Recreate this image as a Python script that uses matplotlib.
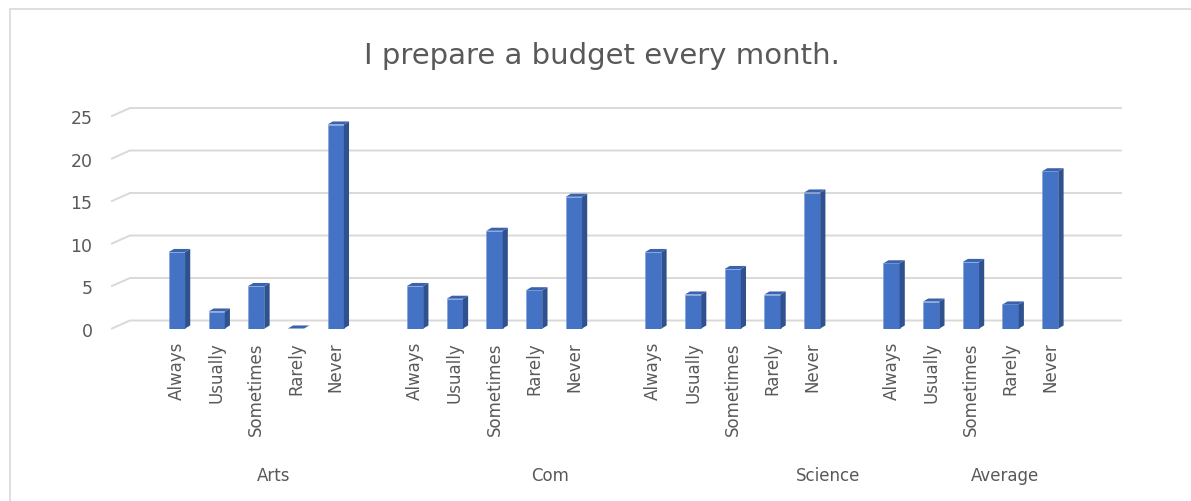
import numpy as np
import matplotlib.pyplot as plt
from matplotlib.patches import Polygon, Rectangle
import matplotlib.transforms as mtransforms

title = 'I prepare a budget every month.'
groups = ['Arts', 'Com', 'Science', 'Average']
answers = ['Always', 'Usually', 'Sometimes', 'Rarely', 'Never']
arts = [9, 2, 5, 0, 24]
com = [5, 3.5, 11.5, 4.5, 15.5]
science = [9, 4, 7, 4, 16]
average = [7.67, 3.17, 7.83, 2.83, 18.5]
yticks = [0, 5, 10, 15, 20, 25]

series = [arts, com, science, average]

front = '#4472C4'
side = '#2F528F'
top = '#3A62AE'
grid_c = '#D9D9D9'
text_c = '#595959'

fig = plt.figure(figsize=(11.91, 5.02), dpi=100)
fig.patch.set_facecolor('white')

# chart area frame (runs off the right and bottom)
fig.patches.append(Rectangle((10 / 1191, -0.1), 1.2, (502 - 10) / 502 + 0.1,
                             transform=fig.transFigure, fill=False,
                             edgecolor=grid_c, linewidth=1.2))

ax = fig.add_axes([0.0940, 0.3436, 0.8472, 0.4233])
xmin, xmax = -1.637, 23.78
ax.set_xlim(xmin, xmax)
ax.set_ylim(0, 25)
for s in ax.spines.values():
    s.set_visible(False)

# depth of the back wall and of each bar, in data units
wall_dx, wall_dy = 0.453, 0.94
bar_w = 0.41
bar_dx, bar_dy = 0.13, 0.36

for v in yticks:
    ax.plot([xmin, xmin + wall_dx, xmax], [v, v + wall_dy, v + wall_dy],
            color=grid_c, linewidth=1.4, clip_on=False, zorder=1)

positions = []
labels = []
for g, vals in enumerate(series):
    for c, v in enumerate(vals):
        x = g * 6 + c
        positions.append(x)
        labels.append(answers[c])
        x0, x1 = x - bar_w / 2, x + bar_w / 2
        ax.bar(x, v, width=bar_w, color=front, edgecolor='#7F9FD8',
               linewidth=0.4, zorder=3)
        ax.add_patch(Polygon([(x1, 0), (x1 + bar_dx, bar_dy), (x1 + bar_dx, v + bar_dy), (x1, v)],
                             closed=True, facecolor=side, edgecolor='none', zorder=3))
        ax.add_patch(Polygon([(x0, v), (x0 + bar_dx, v + bar_dy), (x1 + bar_dx, v + bar_dy), (x1, v)],
                             closed=True, facecolor=top, edgecolor='none', zorder=3))

ax.set_xticks(positions)
ax.set_xticklabels(labels, rotation=90, va='top', ha='center')
ax.set_yticks(yticks)
ax.tick_params(axis='x', length=0, pad=9, labelsize=12, labelcolor=text_c)
ax.tick_params(axis='y', length=0, pad=14, labelsize=12.5, labelcolor=text_c)

group_x = [2.44, 9.40, 16.40, 20.86]
trans = mtransforms.blended_transform_factory(ax.transData, fig.transFigure)
for gx, name in zip(group_x, groups):
    ax.text(gx, 0.052, name, transform=trans, ha='center', va='center',
            fontsize=12, color=text_c)

fig.text(0.505, 0.889, title, ha='center', va='center', fontsize=21,
         color=text_c)

fig.savefig('out.png', dpi=100)
